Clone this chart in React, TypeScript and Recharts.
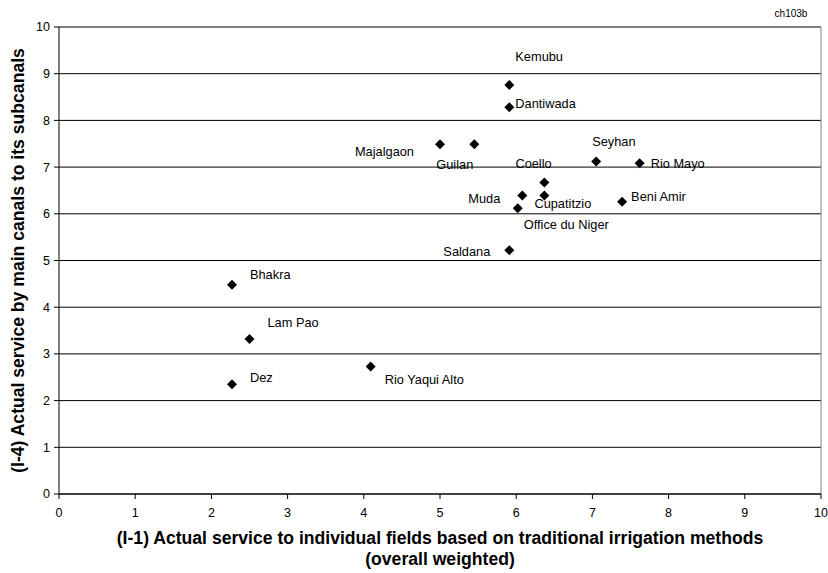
import React from "react";
import {
  ScatterChart,
  Scatter,
  XAxis,
  YAxis,
  CartesianGrid,
  ReferenceLine,
  Label,
} from "recharts";

const schemeNames = [
  "Kemubu",
  "Dantiwada",
  "Majalgaon",
  "Guilan",
  "Seyhan",
  "Rio Mayo",
  "Coello",
  "Cupatitzio",
  "Muda",
  "Office du Niger",
  "Beni Amir",
  "Saldana",
  "Bhakra",
  "Lam Pao",
  "Dez",
  "Rio Yaqui Alto",
];
const fieldService = [
  5.91, 5.91, 5.0, 5.45, 7.05, 7.62, 6.37, 6.37, 6.08, 6.02, 7.39, 5.91, 2.27,
  2.5, 2.27, 4.09,
];
const canalService = [
  8.76, 8.28, 7.49, 7.49, 7.12, 7.08, 6.67, 6.39, 6.39, 6.12, 6.26, 5.22, 4.48,
  3.32, 2.35, 2.73,
];
const axisTicks = [0, 1, 2, 3, 4, 5, 6, 7, 8, 9, 10];

// where each data label sits relative to its marker (Excel labels were dragged by hand)
const labelSpot: Record<string, { dx: number; dy: number; anchor: "start" | "end" }> = {
  Kemubu: { dx: 6, dy: -28, anchor: "start" },
  Dantiwada: { dx: 6, dy: -4, anchor: "start" },
  Majalgaon: { dx: -26, dy: 7, anchor: "end" },
  Guilan: { dx: -38, dy: 20, anchor: "start" },
  Seyhan: { dx: -4, dy: -20, anchor: "start" },
  "Rio Mayo": { dx: 11, dy: 0, anchor: "start" },
  Coello: { dx: -29, dy: -19, anchor: "start" },
  Cupatitzio: { dx: -10, dy: 8, anchor: "start" },
  Muda: { dx: -22, dy: 3, anchor: "end" },
  "Office du Niger": { dx: 6, dy: 16, anchor: "start" },
  "Beni Amir": { dx: 9, dy: -5, anchor: "start" },
  Saldana: { dx: -19, dy: 1, anchor: "end" },
  Bhakra: { dx: 18, dy: -10, anchor: "start" },
  "Lam Pao": { dx: 18, dy: -16, anchor: "start" },
  Dez: { dx: 18, dy: -7, anchor: "start" },
  "Rio Yaqui Alto": { dx: 14, dy: 13, anchor: "start" },
};

const points = schemeNames.map((name, i) => ({
  name,
  x: fieldService[i],
  y: canalService[i],
}));

const FONT = "'Liberation Sans', Arial, sans-serif";

function DiamondWithLabel(props: any) {
  const { cx, cy, payload } = props;
  const s = 5;
  const spot = labelSpot[payload.name] || { dx: 8, dy: 0, anchor: "start" };
  return (
    <g>
      <path
        d={`M${cx},${cy - s} L${cx + s},${cy} L${cx},${cy + s} L${cx - s},${cy} Z`}
        fill="#000"
      />
      <text
        x={cx + spot.dx}
        y={cy + spot.dy}
        textAnchor={spot.anchor}
        dominantBaseline="central"
        fontFamily={FONT}
        fontSize={12.8}
        fill="#000"
      >
        {payload.name}
      </text>
    </g>
  );
}

function XTitle(props: any) {
  const vb = props.viewBox || {};
  const cx = vb.x + vb.width / 2;
  const top = vb.y;
  return (
    <text
      textAnchor="middle"
      fontFamily={FONT}
      fontSize={17.6}
      fontWeight="bold"
      fill="#000"
    >
      <tspan x={cx} y={top + 50}>
        (I-1) Actual service to individual fields based on traditional irrigation methods
      </tspan>
      <tspan x={cx} y={top + 71}>
        (overall weighted)
      </tspan>
    </text>
  );
}

function YTitle(props: any) {
  const vb = props.viewBox || {};
  const cy = vb.y + vb.height / 2;
  const x = 17.5;
  return (
    <text
      x={x}
      y={cy}
      transform={`rotate(-90, ${x}, ${cy})`}
      textAnchor="middle"
      dominantBaseline="central"
      fontFamily={FONT}
      fontSize={17.6}
      fontWeight="bold"
      fill="#000"
    >
      (I-4) Actual service by main canals to its subcanals
    </text>
  );
}

export default function App() {
  return (
    <div
      style={{
        position: "absolute",
        left: 0,
        top: 0,
        width: 828,
        height: 573,
        background: "#fff",
      }}
    >
      <div
        style={{
          position: "absolute",
          left: 791,
          top: 13,
          transform: "translate(-50%, -50%)",
          fontFamily: FONT,
          fontSize: 10,
          color: "#000",
          whiteSpace: "nowrap",
        }}
      >
        ch103b
      </div>
      <ScatterChart
        width={828}
        height={573}
        margin={{ top: 27, right: 7, bottom: 0, left: 0 }}
      >
        <CartesianGrid vertical={false} stroke="#000" />
        <XAxis
          type="number"
          dataKey="x"
          domain={[0, 10]}
          ticks={axisTicks}
          height={79}
          tickSize={5}
          tickMargin={9}
          axisLine={{ stroke: "#000" }}
          tickLine={{ stroke: "#000" }}
          tick={{ fill: "#000", fontSize: 12.5, fontFamily: FONT }}
        >
          <Label content={<XTitle />} />
        </XAxis>
        <YAxis
          type="number"
          dataKey="y"
          domain={[0, 10]}
          ticks={axisTicks}
          width={59}
          tickSize={5}
          tickMargin={4}
          axisLine={{ stroke: "#000" }}
          tickLine={{ stroke: "#000" }}
          tick={{ fill: "#000", fontSize: 12.5, fontFamily: FONT }}
        >
          <Label content={<YTitle />} />
        </YAxis>
        <ReferenceLine y={10} stroke="#808080" />
        <ReferenceLine x={10} stroke="#808080" />
        <Scatter
          data={points}
          shape={<DiamondWithLabel />}
          isAnimationActive={false}
        />
      </ScatterChart>
    </div>
  );
}
